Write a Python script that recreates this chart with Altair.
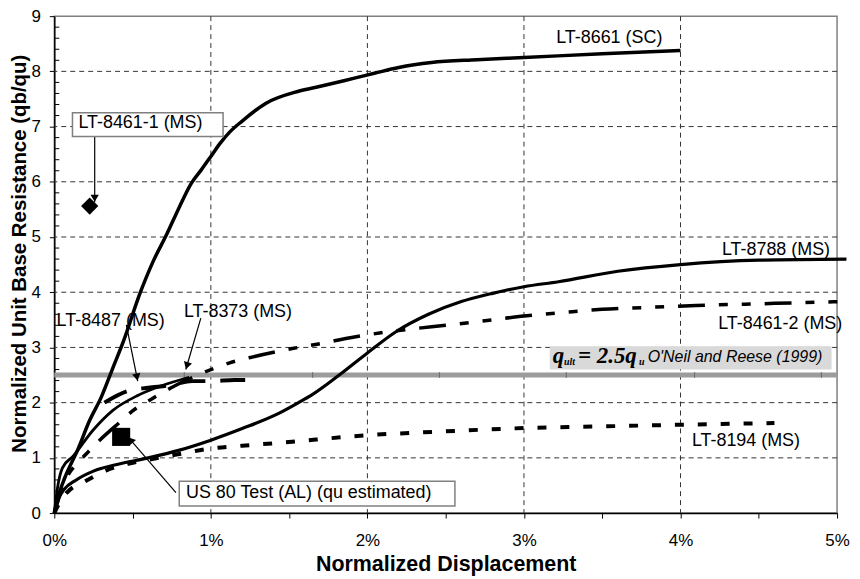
import math
import altair as alt
import pandas as pd

FONT = "Liberation Sans"
W, H = 786, 499

# ---------------- data (x in %, y = qb/qu) ----------------
x_8661 = [0, 0.03, 0.067, 0.15, 0.226, 0.3, 0.37, 0.44, 0.55, 0.63, 0.715, 0.8, 0.875, 0.94, 1.0,
          1.06, 1.12, 1.2, 1.35, 1.56, 1.7, 1.85, 1.95, 2.05, 2.2, 2.41, 2.7, 3.0, 3.5, 4.0]
y_8661 = [0, 0.35, 0.64, 1.15, 1.68, 2.1, 2.6, 3.1, 4.0, 4.55, 5.03, 5.55, 5.97, 6.22, 6.46,
          6.7, 6.9, 7.1, 7.42, 7.64, 7.73, 7.83, 7.9, 7.97, 8.07, 8.16, 8.21, 8.25, 8.32, 8.38]

x_8788 = [0, 0.03, 0.06, 0.14, 0.25, 0.4, 0.6, 0.8, 1.0, 1.2, 1.43, 1.56, 1.65, 1.82, 2.0, 2.18,
          2.39, 2.6, 2.8, 3.0, 3.22, 3.6, 4.0, 4.5, 5.06]
y_8788 = [0, 0.28, 0.42, 0.6, 0.76, 0.88, 1.0, 1.14, 1.32, 1.53, 1.8, 2.0, 2.15, 2.5, 2.9, 3.28,
          3.6, 3.83, 3.98, 4.1, 4.19, 4.38, 4.5, 4.58, 4.6]

x_8194 = [0, 0.04, 0.08, 0.2, 0.33, 0.47, 0.61, 0.8, 1.0, 1.2, 1.43, 2.0, 2.5, 3.0, 3.5, 4.0, 4.6]
y_8194 = [0, 0.22, 0.37, 0.58, 0.77, 0.89, 0.97, 1.07, 1.17, 1.22, 1.27, 1.41, 1.48, 1.54, 1.57, 1.6, 1.63]

x_84612 = [0, 0.05, 0.09, 0.13, 0.2, 0.29, 0.42, 0.5, 0.63, 0.78, 0.9, 1.0, 1.12, 1.27, 1.52, 1.7,
           1.9, 2.1, 2.3, 2.5, 2.8, 3.0, 3.24, 3.5, 3.75, 4.1, 4.5, 4.75, 5.04]
y_84612 = [0, 0.45, 0.7, 0.85, 1.06, 1.32, 1.65, 1.85, 2.08, 2.32, 2.48, 2.6, 2.72, 2.83, 2.98, 3.07,
           3.18, 3.27, 3.34, 3.4, 3.5, 3.57, 3.63, 3.69, 3.72, 3.76, 3.79, 3.81, 3.83]

x_8373 = [0, 0.02, 0.052, 0.12, 0.247, 0.374, 0.533, 0.69, 0.862]
y_8373 = [0, 0.45, 0.82, 1.03, 1.5, 1.86, 2.13, 2.31, 2.46]

x_8487 = [0.32, 0.47, 0.6, 0.73, 0.88, 1.0, 1.15, 1.27]
y_8487 = [2.0, 2.21, 2.27, 2.31, 2.39, 2.39, 2.41, 2.41]

# single test points
pt_84611 = (0.226, 5.56)
pt_us80 = (0.427, 1.38)

# curve labels
lab_text = ["LT-8661 (SC)", "LT-8788 (MS)", "LT-8461-2 (MS)", "LT-8194 (MS)",
            "LT-8487 (MS)", "LT-8373 (MS)", "LT-8461-1 (MS)", "US 80 Test (AL) (qu estimated)"]
lab_x = [3.545, 4.61, 4.637, 4.418, 0.36, 1.173, 0.55, 1.625]
lab_y = [8.6, 4.76, 3.42, 1.31, 3.47, 3.65, 7.07, 0.358]

# boxed labels (x1, x2, y1, y2)
box_x1 = [0.116, 0.798]
box_x2 = [1.078, 2.559]
box_y1 = [6.82, 0.13]
box_y2 = [7.25, 0.578]

# arrows (start -> tip)
arr_x0 = [0.258, 0.46, 0.936, 0.777]
arr_y0 = [6.86, 3.41, 3.53, 0.37]
arr_x1 = [0.258, 0.533, 0.84, 0.47]
arr_y1 = [5.63, 2.39, 2.6, 1.38]

# reference line q_ult = 2.5 q_u
ref_y = 2.5
ref_ticks = [0.83, 1.65, 2.46, 3.27, 4.09, 4.9]
ref_box = (3.165, 4.965, 2.6, 3.02)

grid_x = [1, 2, 3, 4]
grid_y = [1, 2, 3, 4, 5, 6, 7, 8]
x_tick_values = [0, 0.5, 1, 1.5, 2, 2.5, 3, 3.5, 4, 4.5, 5]
y_tick_values = [0, 1, 2, 3, 4, 5, 6, 7, 8, 9]
y_minor = [round(i * 0.2, 1) for i in range(1, 45) if i % 5 != 0]

# ---------------- axes ----------------
XS = alt.Scale(domain=[0, 5], nice=False, zero=False)
YS = alt.Scale(domain=[0, 9], nice=False, zero=False)

x_axis = alt.Axis(values=x_tick_values,
                  labelExpr="datum.value % 1 == 0 ? datum.value + '%' : ''",
                  grid=False, tickSize=5, tickColor="black", tickWidth=1,
                  domainColor="black", domainWidth=1.5,
                  labelFont=FONT, labelFontSize=17, labelColor="black", labelPadding=15,
                  labelFlush=False, labelOverlap=False,
                  title="Normalized Displacement", titleFont=FONT, titleFontSize=21.5,
                  titleFontWeight="bold", titleColor="black", titlePadding=5)
y_axis = alt.Axis(values=y_tick_values, grid=False, tickSize=5, tickColor="black", tickWidth=1,
                  domainColor="black", domainWidth=1.5,
                  labelFont=FONT, labelFontSize=17, labelColor="black", labelPadding=9,
                  labelFlush=False, labelOverlap=False,
                  title="Normalized Unit Base Resistance (qb/qu)", titleFont=FONT,
                  titleFontSize=20.5, titleFontWeight="bold", titleColor="black",
                  titlePadding=1, titleY=238)


def X(f, **kw):
    return alt.X(f, type="quantitative", scale=XS, axis=x_axis, **kw)


def Y(f, **kw):
    return alt.Y(f, type="quantitative", scale=YS, axis=y_axis, **kw)


def curve(xs, ys, width, dash=None):
    df = pd.DataFrame({"x": xs, "y": ys, "i": list(range(len(xs)))})
    kw = dict(color="black", strokeWidth=width, interpolate="monotone", strokeCap="butt")
    if dash:
        kw["strokeDash"] = dash
    return alt.Chart(df).mark_line(**kw).encode(x=X("x"), y=Y("y"), order="i:Q")


gx = alt.Chart(pd.DataFrame({"g": grid_x})).mark_rule(
    color="#333333", strokeWidth=1, strokeDash=[5, 4]).encode(x=X("g"))
gy = alt.Chart(pd.DataFrame({"g": grid_y})).mark_rule(
    color="#333333", strokeWidth=1, strokeDash=[5, 4]).encode(y=Y("g"))

yminor = alt.Chart(pd.DataFrame({"v": y_minor})).mark_rule(color="black", strokeWidth=1).encode(
    y=Y("v"), x=alt.value(0), x2=alt.value(5))

# reference band + its box and text
band = alt.Chart(pd.DataFrame({"y": [ref_y], "x0": [0], "x1": [5]})).mark_rule(
    color="#9c9c9c", strokeWidth=5).encode(x=X("x0"), x2="x1", y=Y("y"))
band_ticks = alt.Chart(pd.DataFrame({"x": ref_ticks, "y": [ref_y] * len(ref_ticks)})).mark_tick(
    orient="vertical", size=6, thickness=1, color="#555555").encode(x=X("x"), y=Y("y"))
ref_rect = alt.Chart(pd.DataFrame({"x1": [ref_box[0]], "x2": [ref_box[1]],
                                   "y1": [ref_box[2]], "y2": [ref_box[3]]})).mark_rect(
    color="#d9d9d9").encode(x=X("x1"), x2="x2", y=Y("y1"), y2="y2")

formula_parts = [
    ("q", 3.184, 2.72, 23, "bold", "italic", "Liberation Serif"),
    ("ult", 3.256, 2.685, 10, "bold", "italic", "Liberation Serif"),
    ("= 2.5q", 3.345, 2.72, 23, "bold", "italic", "Liberation Serif"),
    ("u", 3.735, 2.685, 10, "bold", "italic", "Liberation Serif"),
    ("O'Neil and Reese (1999)", 3.79, 2.74, 16, "normal", "italic", FONT),
]
formula_layers = []
for t, fx, fy, fs, fw, fst, ff in formula_parts:
    formula_layers.append(
        alt.Chart(pd.DataFrame({"t": [t], "x": [fx], "y": [fy]})).mark_text(
            align="left", baseline="alphabetic", font=ff, fontSize=fs, fontWeight=fw,
            fontStyle=fst, color="black").encode(x=X("x"), y=Y("y"), text="t:N"))

# curves
c8661 = curve(x_8661, y_8661, 3.5)
c8788 = curve(x_8788, y_8788, 3.2)
c8194 = curve(x_8194, y_8194, 4, [9, 14])
c84612 = curve(x_84612, y_84612, 3.5, [27, 14, 9, 14, 9, 14])
c8373 = curve(x_8373, y_8373, 2.8)
c8487 = curve(x_8487, y_8487, 4, [25, 15])

# markers
diamond = alt.Chart(pd.DataFrame({"x": [pt_84611[0]], "y": [pt_84611[1]]})).mark_point(
    shape="diamond", filled=True, color="black", size=300, opacity=1).encode(x=X("x"), y=Y("y"))
square = alt.Chart(pd.DataFrame({"x": [pt_us80[0]], "y": [pt_us80[1]]})).mark_point(
    shape="square", filled=True, color="black", size=330, opacity=1).encode(x=X("x"), y=Y("y"))

# label boxes
boxes = alt.Chart(pd.DataFrame({"x1": box_x1, "x2": box_x2, "y1": box_y1, "y2": box_y2})).mark_rect(
    fill="white", stroke="#808080", strokeWidth=1.5).encode(x=X("x1"), x2="x2", y=Y("y1"), y2="y2")

labels = alt.Chart(pd.DataFrame({"t": lab_text, "x": lab_x, "y": lab_y})).mark_text(
    font=FONT, fontSize=18, color="black", align="center", baseline="middle").encode(
    x=X("x"), y=Y("y"), text="t:N")

# arrows
arr = alt.Chart(pd.DataFrame({"x0": arr_x0, "y0": arr_y0, "x1": arr_x1, "y1": arr_y1})).mark_rule(
    color="black", strokeWidth=1.2).encode(x=X("x0"), y=Y("y0"), x2="x1", y2="y1")

pxx, pxy = W / 5.0, H / 9.0
hx, hy, ha = [], [], []
for x0, y0, x1, y1 in zip(arr_x0, arr_y0, arr_x1, arr_y1):
    dx = (x1 - x0) * pxx
    dy = -(y1 - y0) * pxy
    L = math.hypot(dx, dy)
    ux, uy = dx / L, dy / L
    ha.append(math.degrees(math.atan2(dx, -dy)) % 360)
    hx.append(x1 - 4 * ux / pxx)
    hy.append(y1 + 4 * uy / pxy)
heads = alt.Chart(pd.DataFrame({"x": hx, "y": hy, "a": ha})).mark_point(
    shape="triangle-up", filled=True, color="black", size=70, opacity=1).encode(
    x=X("x"), y=Y("y"), angle=alt.Angle("a:Q", scale=None))

chart = alt.layer(
    gx, gy, yminor, band, band_ticks, ref_rect, *formula_layers,
    c8194, c84612, c8487, c8373, c8788, c8661,
    arr, heads, boxes, labels, diamond, square,
).properties(
    width=W, height=H,
    autosize=alt.AutoSizeParams(type="none"),
    padding={"left": 46.5, "top": 7, "right": 15, "bottom": 62},
).configure_view(stroke="#808080", strokeWidth=1.5)

chart.save("out.html", embed_options={"renderer": "svg", "actions": False})
